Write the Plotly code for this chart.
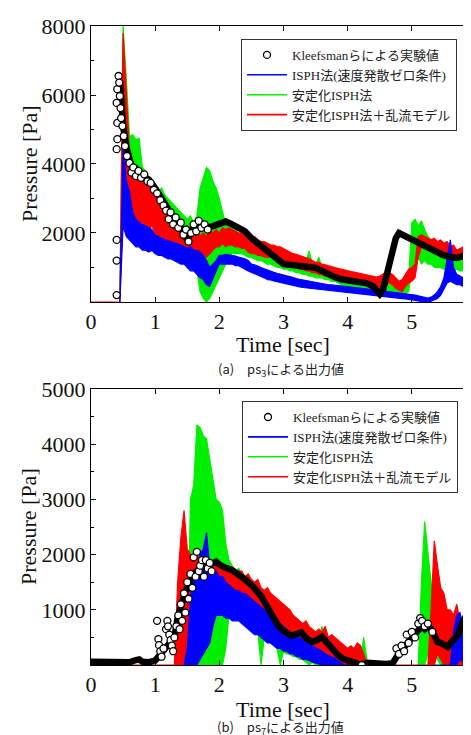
import plotly.graph_objects as go

T = [0.00,0.05,0.10,0.15,0.20,0.25,0.30,0.35,0.40,0.45,
     0.50,0.55,0.60,0.65,0.70,0.75,0.80,0.85,0.90,0.95,
     1.00,1.05,1.10,1.15,1.20,1.25,1.30,1.35,1.40,1.45,
     1.50,1.55,1.60,1.65,1.70,1.75,1.80,1.85,1.90,1.95,
     2.00,2.05,2.10,2.15,2.20,2.25,2.30,2.35,2.40,2.45,
     2.50,2.55,2.60,2.65,2.70,2.75,2.80,2.85,2.90,2.95,
     3.00,3.05,3.10,3.15,3.20,3.25,3.30,3.35,3.40,3.45,
     3.50,3.55,3.60,3.65,3.70,3.75,3.80,3.85,3.90,3.95,
     4.00,4.05,4.10,4.15,4.20,4.25,4.30,4.35,4.40,4.45,
     4.50,4.55,4.60,4.65,4.70,4.75,4.80,4.85,4.90,4.95,
     5.00,5.05,5.10,5.15,5.20,5.25,5.30,5.35,5.40,5.45,
     5.50,5.55,5.60,5.65,5.70,5.75,5.80,5.85,5.90,5.95,
     6.00]

N = None

# ---------------- (a) ps3 ----------------
a_red_lo = [0,0,0,0,0,0,0,0,0,0,
    3000,3200,2700,2500,2400,2300,2300,2200,2100,2200,
    2000,1900,1900,1800,1800,1700,1600,1600,1400,1500,
    1300,1400,1500,1400,1300,1400,1300,1400,1500,1600,
    1600,1700,1600,1650,1650,1600,1600,1550,1550,1450,
    1400,1400,1350,1350,1300,1300,1300,1300,1250,1250,
    1200,1150,1100,1050,1000,950,950,900,900,850,
    850,800,800,750,750,700,700,650,650,620,
    600,600,600,550,550,550,500,500,450,400,
    400,450,500,550,500,400,350,300,450,550,
    600,700,1300,1600,1600,1550,1500,1450,1400,1350,
    1300,1250,1200,1250,1200,1250,1300,1300,1250,1300,
    1300]
a_red_hi = [0,0,0,0,0,0,0,0,0,0,
    7800,6000,4300,3900,3700,3600,3500,3500,3400,3300,
    3100,3000,2800,2900,2700,2600,2500,2300,2400,2100,
    2200,2000,2000,2100,1900,2000,1900,2100,2000,2100,
    2000,2150,2100,2150,2100,2050,2000,2000,1950,1900,
    1850,1900,1800,1750,1750,1700,1650,1650,1600,1600,
    1550,1500,1450,1400,1380,1350,1330,1300,1250,1200,
    1150,1150,1100,1080,1050,1020,1000,980,950,930,
    900,880,870,850,830,820,800,780,750,720,
    750,800,900,850,800,700,600,650,800,950,
    1000,1100,1900,1950,1900,1850,1800,1850,1750,1800,
    1700,1750,1600,1650,1500,1550,1600,1550,1500,1500,
    1450]
a_green_lo = [N,N,N,N,N,N,N,N,N,0,
    4500,3500,3000,3000,2900,2800,2700,2600,2500,2400,
    2400,2300,2200,2100,2000,1900,1900,1800,1700,1700,
    1500,1400,1300,900,300,100,0,100,300,500,
    700,900,1100,1300,1400,1400,1400,1400,1350,1300,
    1300,1250,1200,1200,1150,1100,1100,1050,1000,1000,
    950,950,900,900,850,850,800,800,750,750,
    700,700,700,650,650,600,600,550,500,450,
    400,400,380,380,350,350,320,320,300,300,
    280,250,250,230,220,200,200,250,250,300,
    900,1200,1300,1100,1200,1100,1100,1000,1000,1000,
    950,1000,950,900,950,900,900,950,900,1000,
    1000]
a_green_hi = [N,N,N,N,N,N,N,N,N,0,
    8000,6500,4800,4850,4700,4750,3900,3800,3600,3500,
    3300,3200,3300,3100,3000,2900,2800,2700,2600,2500,
    2400,2500,2300,2500,3300,3600,3900,3800,3500,3300,
    3000,2600,2300,2200,2200,2100,2000,2000,1900,1850,
    1800,1750,1700,1650,1600,1600,1550,1500,1450,1400,
    1400,1350,1300,1300,1250,1200,1200,1150,1480,1100,
    1050,1300,1000,1000,950,950,900,900,850,850,
    800,800,750,800,750,700,700,650,650,600,
    600,550,550,500,500,500,550,550,700,700,
    2300,2400,2200,2350,2100,1900,1800,1700,1600,1600,
    1500,1550,1450,1500,1400,1350,1400,1350,1400,1350,
    1300]
a_blue_lo = [N,N,N,N,N,N,N,N,N,0,
    2200,1900,1800,1700,1600,1600,1500,1500,1450,1500,
    1400,1350,1350,1300,1250,1250,1200,1150,1100,1100,
    1000,900,900,800,700,650,500,450,700,900,
    1100,1100,1100,1100,1100,1050,1050,1000,950,900,
    850,800,780,740,700,650,640,610,580,560,
    540,520,500,480,460,440,420,410,400,390,
    380,360,350,340,330,320,310,300,290,280,
    270,260,250,240,230,220,210,200,190,180,
    170,160,150,140,130,120,110,100,90,80,
    70,50,30,10,0,0,20,50,100,200,
    350,550,600,550,500,500,450,500,450,500,
    500]
a_blue_hi = [N,N,N,N,N,N,N,N,N,0,
    4600,3500,3200,2600,2400,2300,2250,2200,2150,2100,
    1950,1900,1850,1800,1780,1750,1700,1680,1650,1600,
    1550,1600,1500,1500,1450,1350,1200,1000,1100,1200,
    1350,1350,1380,1370,1350,1330,1300,1280,1250,1200,
    1100,1080,1030,1000,960,920,880,860,830,800,
    780,760,740,700,680,660,640,620,600,590,
    580,560,540,520,500,500,490,470,460,450,
    440,420,410,400,390,380,370,360,350,340,
    330,320,310,300,290,280,270,260,250,240,
    220,200,180,150,130,110,140,200,300,450,
    700,1200,1800,1000,800,750,700,750,700,750,
    700]
a_exp_t = [0.45,0.50,0.55,0.60,0.65,0.70,0.75,0.80,0.90,1.00,1.10,1.20,1.30,1.40,1.50,
           1.60,1.70,1.80,1.90,2.00,2.10,2.20,2.30,2.40,2.50,2.60,2.70,2.80,2.90,3.00,
           3.10,3.20,3.30,3.40,3.50,3.60,3.70,3.80,3.90,4.00,4.10,4.20,4.30,4.40,4.45,
           4.50,4.55,4.60,4.65,4.70,4.75,4.80,4.85,4.90,5.00,5.10,5.20,5.30,5.40,5.50,
           5.60,5.70,5.80,5.90,6.00]
a_exp_p = [6400,5100,4500,4050,3800,3850,3700,3650,3550,3300,3000,2700,2300,2150,1800,
           2200,2200,2150,2200,2280,2330,2250,2150,2050,1850,1700,1550,1400,1250,1100,
           1080,1050,1040,1000,990,900,800,720,660,620,600,570,540,450,300,
           230,350,700,1100,1500,1850,2000,1950,1900,1820,1740,1650,1550,1420,1350,
           1300,1280,1330,1360,1390]
a_sc_t = [0.40,0.40,0.40,0.40,0.41,0.41,0.40,0.41,0.43,0.44,0.45,0.46,0.47,0.49,0.51,
          0.53,0.56,0.60,0.63,0.66,0.70,0.74,0.78,0.83,0.88,0.93,0.98,1.03,1.08,1.13,
          1.17,1.21,1.24,1.28,1.32,1.36,1.40,1.44,1.48,1.52,1.56,1.60,1.64,1.68,1.72,
          1.77,1.82,5.98]
a_sc_p = [200,1200,1800,4430,4720,5190,5770,6170,6550,6360,5970,5620,5330,5100,4810,
          4520,4230,4030,3750,3900,3650,3800,3600,3700,3500,3450,3250,3150,2950,2800,
          2650,2400,2600,2250,2450,2150,2300,1950,2100,1750,2000,2250,2050,2350,2150,
          2250,2100,1390]

# ---------------- (b) ps7 ----------------
b_red_lo = [0,0,0,0,0,0,0,0,0,0,
    0,0,0,0,0,0,0,0,0,0,
    0,0,0,0,0,0,0,0,0,0,
    100,0,200,300,400,600,700,500,800,1000,
    1100,1200,1150,1100,1100,1050,1000,1000,950,900,
    850,800,800,700,650,600,550,500,500,450,
    450,450,400,350,300,300,250,200,200,150,
    150,100,100,50,50,50,0,0,0,0,
    0,0,0,0,0,0,0,0,0,0,
    0,0,0,0,0,0,0,0,0,0,
    0,0,0,0,0,0,0,0,200,100,
    0,0,0,0,0,0,0,0,0,0,
    0]
b_red_hi = [0,0,0,0,0,0,0,0,0,0,
    0,0,0,0,0,0,0,0,0,0,
    0,0,0,0,0,0,0,1500,2300,2800,
    2100,2000,1900,2000,1900,2000,1800,1900,1800,1850,
    1800,1750,1800,1700,1750,1650,1700,1700,1600,1650,
    1550,1500,1550,1400,1350,1400,1300,1250,1200,1150,
    1100,1050,1000,900,850,800,750,800,700,650,
    600,650,600,700,500,550,500,450,400,350,
    300,350,300,400,350,200,0,0,0,0,
    0,0,0,0,0,0,0,0,0,0,
    0,0,0,0,0,0,1000,2250,1800,1400,
    1300,1000,1000,900,1100,800,600,400,300,200,
    150]
b_green_lo = [N,N,N,N,N,N,N,N,N,N,
    N,N,N,N,N,N,N,N,N,N,
    N,N,N,N,N,N,N,N,N,N,
    0,0,0,0,0,0,0,0,0,0,
    0,0,300,900,1000,950,900,850,800,750,
    700,650,600,0,500,450,400,350,300,0,
    250,200,200,150,150,100,100,50,0,50,
    0,0,0,0,0,0,0,0,0,0,
    0,0,0,0,0,0,0,N,N,N,
    N,N,N,N,N,N,N,N,N,N,
    N,N,0,0,0,200,300,200,100,0,
    0,0,0,0,0,0,0,0,0,0,
    0]
b_green_hi = [N,N,N,N,N,N,N,N,N,N,
    N,N,N,N,N,N,N,N,N,N,
    N,N,N,N,N,N,N,N,N,N,
    0,3000,3250,4350,4300,4150,4100,3750,3400,3000,
    2950,2800,2200,1900,1800,1700,1750,1650,1600,1650,
    1500,1450,1400,1350,1250,1200,1150,1100,1000,950,
    900,850,800,750,700,650,650,600,550,500,
    450,500,700,400,350,300,250,300,200,150,
    100,150,100,50,100,500,100,N,N,N,
    N,N,N,N,N,N,N,N,N,N,
    N,N,0,1500,2600,2000,1500,1300,1000,800,
    700,600,500,400,450,350,500,400,300,450,
    300]
b_blue_lo = [N,N,N,N,N,N,N,N,N,N,
    N,N,N,N,N,N,N,N,N,N,
    N,N,N,N,N,N,N,N,N,0,
    0,0,0,0,100,200,300,400,700,900,
    900,900,850,850,800,800,800,750,700,650,
    600,550,550,500,450,400,400,350,300,300,
    250,250,200,200,150,150,100,100,80,50,
    30,20,0,0,0,0,0,0,0,0,
    0,0,0,0,0,0,N,N,N,N,
    N,N,N,N,N,N,N,N,N,N,
    N,N,N,N,N,N,N,0,0,0,
    0,0,0,0,0,100,50,0,50,0,
    50]
b_blue_hi = [N,N,N,N,N,N,N,N,N,N,
    N,N,N,N,N,N,N,N,N,N,
    N,N,N,N,N,N,N,N,N,0,
    300,1200,1700,1600,2000,2100,2400,1800,1700,1700,
    1600,1600,1500,1450,1400,1350,1350,1300,1300,1250,
    1200,1150,1100,1050,1000,950,900,850,800,750,
    700,650,600,550,500,500,450,400,380,350,
    320,280,250,200,180,150,120,80,50,0,
    0,0,0,0,0,0,N,N,N,N,
    N,N,N,N,N,N,N,N,N,N,
    N,N,N,N,N,N,N,0,0,0,
    0,0,0,600,900,950,700,600,500,550,
    400]
b_exp_t = [0.00,0.10,0.20,0.30,0.40,0.50,0.60,0.70,0.75,0.80,0.90,1.00,1.05,1.10,1.15,
           1.20,1.25,1.30,1.35,1.40,1.45,1.50,1.55,1.60,1.65,1.70,1.75,1.80,1.85,1.90,
           1.95,2.00,2.05,2.10,2.20,2.30,2.40,2.50,2.60,2.65,2.70,2.76,2.85,2.92,3.00,
           3.12,3.20,3.28,3.36,3.44,3.52,3.60,3.68,3.76,3.85,3.93,4.00,4.10,4.22,4.30,
           4.40,4.50,4.60,4.70,4.76,4.82,4.90,4.97,5.05,5.10,5.15,5.20,5.25,5.30,5.35,
           5.40,5.45,5.50,5.56,5.64,5.72,5.80,5.88,5.94,6.00]
b_exp_p = [60,60,50,40,40,40,50,90,100,60,50,80,150,200,300,
           350,400,500,850,1100,1250,1400,1550,1650,1700,1750,1780,1800,1820,1850,
           1870,1820,1780,1760,1720,1650,1550,1450,1330,1250,1150,1020,850,710,620,
           530,560,590,480,420,450,510,400,290,180,110,80,40,0,40,
           30,30,20,30,150,250,350,450,550,650,700,650,700,650,500,
           420,400,360,330,450,550,800,950,1100,1200]
b_sc_t = [1.03,1.05,1.06,1.08,1.10,1.13,1.17,1.19,1.20,1.22,1.24,1.26,1.28,1.30,1.33,
          1.36,1.38,1.40,1.42,1.45,1.47,1.50,1.52,1.55,1.58,1.60,1.63,1.65,1.68,1.70,
          1.73,1.76,1.79,1.82,1.85,1.88,4.76,4.80,4.84,4.88,4.92,4.95,5.00,5.05,5.10,
          5.13,5.16,5.20,5.25,5.32,4.22,5.99]
b_sc_p = [800,470,360,250,150,300,650,800,700,550,450,350,250,500,700,
          900,650,1100,800,1300,950,1500,1200,1650,1400,1950,1600,2050,1700,1800,
          1900,1600,1900,1750,1850,1700,300,200,350,250,550,400,600,500,750,
          850,800,700,750,600,0,1200]

BLUE = '#0000ff'
GREEN = '#00f000'
RED = '#ff0000'
SERIF = '"Liberation Serif", "Times New Roman", "Noto Sans CJK JP", serif'
GOTHIC = '"Noto Sans CJK JP", "Noto Sans", sans-serif'
NAMES = ['Kleefsmanらによる実験値', 'ISPH法(速度発散ゼロ条件)', '安定化ISPH法', '安定化ISPH法＋乱流モデル']


def band(t, lo, hi):
    xs, ys = [], []
    run = []

    def flush(r):
        if r:
            xs.extend([t[i] for i in r] + [t[i] for i in reversed(r)])
            ys.extend([hi[i] for i in r] + [lo[i] for i in reversed(r)])
            xs.append(None)
            ys.append(None)

    for i in range(len(t)):
        if lo[i] is None or hi[i] is None:
            flush(run)
            run = []
        else:
            run.append(i)
    flush(run)
    return xs, ys


fig = go.Figure()


def add_panel(xa, ya, leg, green, red, blue, ex_t, ex_p, sc_t, sc_p):
    for (lo, hi), col in ((green, GREEN), (red, RED), (blue, BLUE)):
        xs, ys = band(T, lo, hi)
        fig.add_trace(go.Scatter(x=xs, y=ys, mode='lines', fill='toself', fillcolor=col,
                                 line=dict(color=col, width=1.2), showlegend=False,
                                 hoverinfo='skip', xaxis=xa, yaxis=ya))
    fig.add_trace(go.Scatter(x=ex_t, y=ex_p, mode='lines', line=dict(color='black', width=6.5),
                             showlegend=False, hoverinfo='skip', xaxis=xa, yaxis=ya))
    fig.add_trace(go.Scatter(x=sc_t, y=sc_p, mode='markers', name=NAMES[0], legend=leg,
                             marker=dict(symbol='circle', size=7, color='white',
                                         line=dict(color='black', width=1.3)),
                             xaxis=xa, yaxis=ya))
    for nm, col in ((NAMES[1], BLUE), (NAMES[2], GREEN), (NAMES[3], RED)):
        fig.add_trace(go.Scatter(x=[None], y=[None], mode='lines', name=nm, legend=leg,
                                 line=dict(color=col, width=1.6), xaxis=xa, yaxis=ya))


add_panel('x', 'y', 'legend', (a_green_lo, a_green_hi), (a_red_lo, a_red_hi),
          (a_blue_lo, a_blue_hi), a_exp_t, a_exp_p, a_sc_t, a_sc_p)
add_panel('x2', 'y2', 'legend2', (b_green_lo, b_green_hi), (b_red_lo, b_red_hi),
          (b_blue_lo, b_blue_hi), b_exp_t, b_exp_p, b_sc_t, b_sc_p)

axis_common = dict(showline=True, linecolor='black', linewidth=1, mirror='ticks',
                   ticks='inside', ticklen=5, tickcolor='black', showgrid=False,
                   zeroline=False, automargin=False,
                   tickfont=dict(family=SERIF, size=22, color='#111'))
x_ticks = [0, 1, 2, 3, 4, 5, 6]

leg_common = dict(xanchor='left', yanchor='top', bgcolor='white', bordercolor='#333',
                  borderwidth=1, font=dict(family=SERIF, size=13, color='#222'),
                  traceorder='normal', itemwidth=40)

fig.update_layout(
    width=471, height=735,
    margin=dict(l=83, r=3, t=18, b=78, autoexpand=False),
    paper_bgcolor='white', plot_bgcolor='white',
    font=dict(family=SERIF, color='#111'),
    xaxis=dict(domain=[0, 1], range=[0, 6], anchor='y', tickvals=x_ticks, **axis_common),
    yaxis=dict(domain=[0.5681, 1], range=[0, 8000], anchor='x',
               tickvals=[2000, 4000, 6000, 8000],
               minor=dict(tickvals=[1000, 3000, 5000, 7000], ticks='inside', ticklen=3,
                          tickcolor='black'), **axis_common),
    xaxis2=dict(domain=[0, 1], range=[0, 6], anchor='y2', tickvals=x_ticks, **axis_common),
    yaxis2=dict(domain=[0, 0.4319], range=[0, 5000], anchor='x2',
                tickvals=[1000, 2000, 3000, 4000, 5000],
                minor=dict(tickvals=[500, 1500, 2500, 3500, 4500], ticks='inside', ticklen=3,
                           tickcolor='black'), **axis_common),
    legend=dict(x=0.3896, y=0.9797, **leg_common),
    legend2=dict(x=0.3922, y=0.4131, **leg_common),
    showlegend=True,
)

ann = []
for yc in (0.784, 0.216):
    ann.append(dict(text='Pressure [Pa]', x=-0.161, y=yc, xref='paper', yref='paper',
                    textangle=-90, showarrow=False, xanchor='center', yanchor='middle',
                    font=dict(family=SERIF, size=22, color='#111')))
for yc in (0.5010, -0.0700):
    ann.append(dict(text='Time [sec]', x=0.4987, y=yc, xref='paper', yref='paper',
                    showarrow=False, xanchor='center', yanchor='middle',
                    font=dict(family=SERIF, size=22, color='#111')))
ann.append(dict(text='(a)\u3000ps<sub>3</sub>による出力値', x=0.4935, y=0.4632, xref='paper',
                yref='paper', showarrow=False, xanchor='center', yanchor='middle',
                font=dict(family=GOTHIC, size=13, color='#222')))
ann.append(dict(text='(b)\u3000ps<sub>7</sub>による出力値', x=0.4935, y=-0.0975, xref='paper',
                yref='paper', showarrow=False, xanchor='center', yanchor='middle',
                font=dict(family=GOTHIC, size=13, color='#222')))
fig.update_layout(annotations=ann)

fig.write_html('out.html')
